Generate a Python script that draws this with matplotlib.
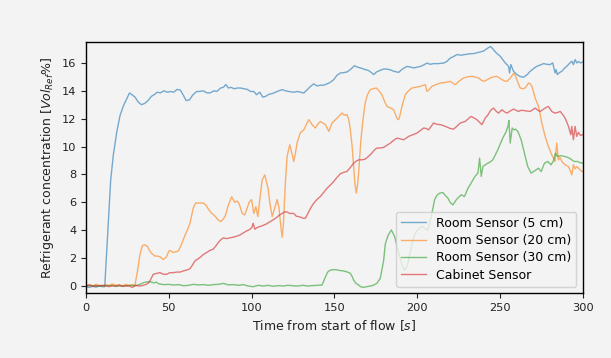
import matplotlib
matplotlib.use("Agg")
import matplotlib.pyplot as plt

# Room sensor at 5 cm height
t_room5 = [0, 2, 4, 6, 8, 10, 11.3, 13, 14.9, 16.5, 18.5, 20.5, 22.5, 24.5, 26.3, 28, 29.6, 31.5,
           33.5, 35.5, 37.5, 39.5, 41.5, 43, 45, 47, 49, 51, 53, 55, 57, 58.7, 60.5, 62.5, 64.5,
           66.8, 68.5, 70.8, 73, 75, 77.3, 79, 81.3, 83, 84.5, 86, 87.5, 89.5, 91.5, 93.3, 95.5,
           97.4, 99.5, 101.4, 103, 105, 106.8, 108.5, 110.5, 112.5, 114.5, 116.5, 118.5, 120.5,
           122.5, 125.5, 128, 131.6, 133.6, 135.5, 137.6, 139.5, 141.6, 143.5, 145.7, 147.5,
           149.7, 151.5, 153.7, 155.5, 157.7, 160, 162.2, 164, 165.8, 168, 170.8, 172.5, 173.8,
           175.5, 177.8, 180, 182, 184, 185.9, 188.9, 191, 193.9, 196, 197.9, 200, 202, 204, 206,
           208, 210, 213, 216.1, 218, 220.1, 222, 224.1, 226.5, 229.1, 231.5, 234.2, 237, 240.2,
           242.6, 244.5, 246.2, 248, 250.3, 252, 253.3, 255.3, 255.9, 256.7, 258.3, 260, 261.3,
           263, 264.3, 266.5, 268.4, 270.5, 272.4, 274.5, 276.4, 278.5, 280.4, 282, 283.4, 284,
           284.8, 286, 287.5, 289, 290.5, 292, 293.5, 294.5, 295.5, 296.5, 297.5, 298.8, 300]
v_room5 = [-0.05, -0.1, -0.02, -0.08, 0.0, -0.05, -0.05, 3.5, 7.6, 9.4, 11.0, 12.2, 12.9, 13.4,
           13.85, 13.7, 13.55, 13.2, 13.0, 13.1, 13.3, 13.6, 13.75, 13.9, 13.85, 14.0, 13.9,
           13.95, 13.9, 14.1, 14.05, 13.7, 13.3, 13.35, 13.7, 13.95, 13.95, 14.0, 13.85, 13.85,
           14.0, 13.95, 14.2, 14.25, 14.45, 14.2, 14.25, 14.15, 14.2, 14.2, 14.15, 14.1, 13.95,
           13.95, 13.72, 13.9, 13.55, 13.6, 13.75, 13.8, 13.9, 14.0, 14.08, 14.0, 13.95, 13.9,
           13.95, 13.84, 14.08, 14.3, 14.5, 14.35, 14.4, 14.4, 14.5, 14.6, 14.8, 15.1, 15.28,
           15.3, 15.35, 15.55, 15.8, 15.7, 15.64, 15.55, 15.45, 15.3, 15.16, 15.35, 15.47,
           15.57, 15.55, 15.5, 15.4, 15.32, 15.55, 15.75, 15.7, 15.64, 15.7, 15.75, 15.85,
           15.99, 15.9, 15.95, 15.95, 15.99, 16.1, 16.35, 16.45, 16.6, 16.55, 16.6, 16.65,
           16.67, 16.75, 16.85, 17.05, 17.18, 16.95, 16.7, 16.48, 16.2, 16.0, 15.76, 15.28,
           15.88, 15.4, 15.2, 15.09, 15.0, 14.97, 15.15, 15.4, 15.6, 15.76, 15.85, 15.95, 15.9,
           15.88, 16.0, 15.28, 15.52, 15.16, 15.3, 15.4, 15.6, 15.76, 15.95, 16.12, 15.88,
           16.24, 16.0, 16.1, 16.0, 16.05]

# Room sensor at 20 cm height
t_room20 = [0, 2, 4, 6, 8, 10, 12, 14, 16, 18, 20, 22, 24, 26, 28, 29.6, 31, 32.5, 34, 35.5, 37,
            38.6, 40, 41.6, 43, 44.7, 46.7, 48.7, 50, 50.7, 52.7, 54, 55.7, 57.7, 59.7, 61.5,
            62.8, 64.8, 66.2, 68.5, 70.8, 72.5, 74, 76, 77.3, 79.8, 81.3, 83, 84.3, 86, 88,
            89.9, 91.3, 92.5, 94.4, 95.9, 97.4, 98.5, 100, 101.4, 102.6, 103.8, 105, 106.4, 108,
            110, 111, 112.5, 114, 115.5, 116.6, 117.5, 118.5, 119.2, 120.5, 121.5, 123.1, 124.2,
            125.5, 126.5, 127.5, 129.5, 131.6, 133.2, 134.6, 136.6, 138.6, 140, 141.6, 143,
            144.7, 146.7, 148.7, 150, 151.7, 153, 154.7, 156, 157.7, 158.8, 159.7, 160.8, 161.7,
            162.5, 163.3, 164, 164.7, 165.4, 166.1, 167.4, 168.7, 170, 171.7, 173.5, 175.4, 177,
            178.8, 180.5, 181.9, 183.5, 185.9, 187.3, 188.3, 189.2, 190.9, 192.9, 194.9, 196.9,
            199, 202, 204, 205, 206, 207.5, 209, 211.5, 214.1, 217, 220.1, 221.5, 223.1, 225.5,
            228.1, 230.5, 233.2, 235.2, 237.2, 239, 240.2, 242.5, 244.2, 246.2, 248.2, 250,
            251.3, 253, 254.3, 256.3, 258.3, 259.3, 260.3, 261.3, 262.3, 264, 265.3, 267.4,
            268.4, 269.4, 270.4, 271.4, 273.4, 275.4, 277.4, 279.4, 281.4, 283.4, 284.4, 285.4,
            286.5, 287.5, 289.5, 291.5, 292.5, 293.5, 294.5, 295.5, 296.5, 298.5, 300]
v_room20 = [0.05, 0.1, 0.0, 0.12, 0.05, 0.0, 0.1, 0.05, 0.15, 0.05, 0.1, 0.0, 0.12, 0.05, 0.08,
            0.1, 1.0, 2.2, 2.9, 2.95, 2.85, 2.5, 2.3, 2.15, 2.15, 2.1, 1.9, 2.1, 2.5, 2.55, 2.4,
            2.45, 2.5, 3.0, 3.6, 4.1, 4.5, 5.6, 5.95, 5.95, 5.95, 5.8, 5.5, 5.2, 5.1, 4.75,
            4.62, 4.8, 5.1, 5.8, 6.4, 6.0, 6.1, 5.9, 5.2, 5.1, 5.6, 6.0, 6.2, 5.2, 5.7, 4.98,
            6.2, 7.6, 7.97, 7.0, 6.0, 4.98, 5.6, 6.2, 5.6, 4.5, 3.5, 4.3, 7.5, 9.3, 10.13, 9.6,
            8.93, 9.5, 10.25, 11.0, 11.2, 11.6, 11.93, 11.57, 11.33, 11.6, 11.8, 11.7, 11.57,
            11.09, 11.69, 11.85, 12.04, 12.2, 12.41, 12.25, 12.29, 11.9, 11.2, 10.0, 8.57, 7.3,
            6.66, 7.2, 8.1, 9.3, 10.49, 12.0, 13.13, 13.7, 14.08, 14.15, 14.2, 14.0, 13.72,
            13.2, 12.88, 12.8, 12.64, 12.2, 11.93, 12.0, 12.88, 13.72, 14.0, 14.2, 14.25,
            14.32, 14.4, 14.44, 13.96, 14.1, 14.32, 14.45, 14.56, 14.6, 14.68, 14.55, 14.44,
            14.7, 14.92, 15.0, 15.04, 14.98, 14.92, 14.75, 14.68, 14.8, 14.92, 15.0, 15.04,
            14.9, 14.8, 14.7, 14.68, 14.9, 15.25, 15.1, 14.8, 14.5, 14.2, 14.15, 14.2, 14.56,
            14.5, 14.32, 13.9, 13.48, 12.88, 11.69, 10.73, 10.0, 9.41, 8.93, 10.25, 9.05, 9.2,
            8.93, 8.69, 8.57, 8.3, 7.97, 8.69, 8.4, 8.57, 8.33, 8.21]

# Room sensor at 30 cm height
t_room30 = [0, 3, 6, 9, 12, 15, 18, 21, 24, 27, 30, 33, 35, 37, 39, 41, 42.5, 44, 47, 50, 53,
            56, 59, 62, 65, 68, 71, 74, 77, 80, 83, 86, 89, 92, 95, 98, 101, 104, 107, 110, 113,
            116, 119, 122, 125, 128, 131, 134, 137, 140, 142.6, 144.7, 146, 147.7, 150, 151.7,
            154, 155.7, 158, 159.7, 160.7, 161.7, 163, 164.7, 166, 167.7, 169.5, 171.7, 173.5,
            175.7, 177.8, 179.8, 180.8, 182.4, 184.5, 186.5, 188, 189.5, 191, 192.5, 193.5,
            194.5, 196, 197.5, 199, 200.5, 202, 203.6, 205, 206.6, 207.6, 208.6, 210.6, 212,
            213.7, 215.7, 217, 218.7, 220, 221.7, 223.7, 225, 226.7, 228.7, 230.8, 232.3, 233.8,
            235.3, 236.8, 237.8, 238.8, 239.8, 241.3, 242.8, 244.3, 245.8, 247.3, 248.8, 250.3,
            251.8, 253.9, 255, 255.5, 256.3, 257.5, 258.5, 259.5, 260.9, 262.9, 264.9, 266.9,
            268.9, 270.4, 271.9, 273.4, 275, 277, 279, 281, 282.5, 283.6, 285, 287, 289, 290.5,
            292, 293.5, 295, 297, 298.5, 300]
v_room30 = [0.0, 0.05, -0.02, 0.03, 0.0, 0.04, -0.03, 0.02, 0.0, 0.05, 0.02, 0.14, 0.25, 0.3,
            0.3, 0.22, 0.28, 0.15, 0.1, 0.12, 0.07, 0.1, 0.02, 0.05, 0.12, 0.08, 0.1, 0.05, 0.1,
            0.12, 0.19, 0.08, 0.1, 0.05, 0.1, 0.0, -0.05, 0.05, 0.0, 0.05, -0.02, 0.03, 0.0,
            0.05, 0.02, 0.0, 0.05, 0.0, 0.03, 0.05, 0.07, 0.67, 1.0, 1.15, 1.18, 1.15, 1.1,
            1.08, 1.0, 0.91, 0.7, 0.43, 0.2, 0.07, -0.05, -0.1, -0.05, 0.0, 0.05, 0.19, 0.55,
            1.8, 3.0, 3.6, 4.02, 3.54, 2.8, 2.11, 1.5, 1.15, 1.3, 1.63, 2.5, 3.3, 3.8, 4.02,
            4.2, 4.26, 4.1, 4.02, 4.5, 4.98, 6.18, 6.5, 6.66, 6.7, 6.5, 6.3, 6.0, 5.82, 6.18,
            6.35, 6.54, 6.42, 7.02, 7.3, 7.62, 7.9, 8.1, 9.17, 7.86, 8.57, 8.7, 8.81, 8.9, 9.05,
            9.4, 9.77, 10.2, 10.61, 11.09, 11.5, 11.88, 10.25, 11.33, 11.2, 11.25, 11.09, 10.49,
            9.53, 8.57, 8.1, 8.2, 8.33, 8.45, 8.21, 8.81, 8.93, 8.69, 9.0, 9.53, 9.29, 9.35,
            9.29, 9.25, 9.17, 9.05, 8.93, 8.93, 8.85, 8.81]

# Sensor inside the cabinet
t_cabinet = [0, 2, 4, 6, 8, 10, 12, 14, 16, 18, 20, 22, 24, 26, 28, 30, 32, 34, 36, 37.5, 38.6,
             40, 40.6, 42.5, 44.7, 46.5, 48.7, 50.5, 52.7, 55, 57, 58.7, 61, 62.8, 64.3, 65.8,
             68.8, 70.8, 72.8, 74.8, 76.8, 78.3, 79.8, 81.3, 82.9, 84.9, 86.9, 88.9, 90.9, 92.9,
             94.9, 97, 99, 100.2, 101, 102, 103.5, 105, 107, 109, 111, 113, 115, 117, 118.5,
             120.1, 121.5, 123.1, 125.5, 127.1, 128.6, 131.2, 132.6, 134.6, 136, 137.6, 139.5,
             141.6, 143.5, 145.7, 147.7, 149.7, 151.7, 153.7, 155.7, 157.7, 159.7, 161.7, 163.2,
             164.7, 166.7, 168.7, 170.7, 172.7, 174.2, 175.7, 177.8, 179.8, 181.9, 183.9, 185.9,
             187.9, 189.9, 191.9, 193.4, 194.9, 197.5, 200, 202, 204, 205.5, 207, 208.5, 210,
             212, 214.1, 216, 218.1, 220, 222.1, 224, 226.1, 229.1, 231, 232.6, 234.5, 236.2,
             237.7, 239.2, 241.2, 243, 244.5, 246.2, 247.7, 249.2, 251.3, 252.8, 254.3, 256.3,
             258.3, 259.8, 261.3, 262.8, 264.3, 266.4, 268.4, 270, 271.4, 273, 274.4, 276, 277.4,
             279.4, 281.4, 283.4, 285, 286.5, 288, 289.5, 290.5, 291.5, 292.9, 293.5, 294.5,
             295.5, 296.5, 297.5, 298.8, 300]
v_cabinet = [0.0, 0.05, -0.02, 0.03, 0.0, 0.05, 0.02, -0.05, 0.03, 0.0, 0.05, -0.03, 0.02, 0.0,
             -0.1, 0.05, 0.0, 0.03, 0.1, 0.2, 0.36, 0.7, 0.84, 0.9, 0.96, 0.85, 0.84, 0.95, 0.96,
             1.0, 1.0, 1.08, 1.15, 1.24, 1.5, 1.8, 2.04, 2.25, 2.4, 2.55, 2.64, 2.85, 3.1, 3.3,
             3.45, 3.4, 3.45, 3.5, 3.57, 3.65, 3.8, 3.95, 4.06, 4.2, 4.5, 4.07, 4.2, 4.26, 4.35,
             4.45, 4.6, 4.74, 4.9, 5.1, 5.2, 5.33, 5.3, 5.2, 5.21, 5.0, 4.98, 4.86, 4.86, 5.34,
             5.65, 5.94, 6.2, 6.42, 6.7, 7.02, 7.25, 7.5, 7.8, 8.05, 8.15, 8.22, 8.5, 8.81,
             8.95, 9.05, 9.05, 9.1, 9.3, 9.53, 9.75, 9.89, 9.9, 9.94, 10.1, 10.25, 10.45, 10.61,
             10.55, 10.49, 10.6, 10.73, 10.85, 10.97, 11.15, 11.33, 11.3, 11.2, 11.45, 11.69,
             11.6, 11.57, 11.5, 11.4, 11.3, 11.25, 11.45, 11.69, 11.8, 12.0, 12.16, 12.05,
             11.93, 11.75, 11.57, 12.04, 12.3, 12.6, 12.76, 12.55, 12.4, 12.64, 12.5, 12.4,
             12.55, 12.69, 12.6, 12.52, 12.6, 12.59, 12.55, 12.52, 12.65, 12.76, 12.6, 12.52,
             12.65, 12.76, 12.88, 12.52, 12.4, 12.45, 12.52, 12.3, 12.04, 11.75, 11.45, 10.85,
             11.45, 10.49, 11.45, 10.73, 11.02, 10.8, 10.85]

labels = ["Room Sensor (5 cm)", "Room Sensor (20 cm)", "Room Sensor (30 cm)", "Cabinet Sensor"]
colors = ["#1f77b4", "#ff7f0e", "#2ca02c", "#d62728"]
series = [(t_room5, v_room5), (t_room20, v_room20), (t_room30, v_room30), (t_cabinet, v_cabinet)]

bg = "#f3f3f3"
tick_fs = 8.2
label_fs = 9.0

fig = plt.figure(figsize=(6.11, 3.58), dpi=100, facecolor=bg)
ax = fig.add_axes([0.1408, 0.1816, 0.8126, 0.7011], facecolor=bg)

for (t, v), lab, c in zip(series, labels, colors):
    ax.plot(t, v, color=c, lw=1.0, alpha=0.6, label=lab)

ax.set_xlim(0, 300)
ax.set_ylim(-0.5, 17.5)
ax.set_xticks([0, 50, 100, 150, 200, 250, 300])
ax.set_yticks([0, 2, 4, 6, 8, 10, 12, 14, 16])
ax.tick_params(labelsize=tick_fs, colors="#222222")
ax.set_xlabel("Time from start of flow [$s$]", fontsize=label_fs, color="#222222")
ax.set_ylabel("Refrigerant concentration [$Vol_{Ref}\\%$]", fontsize=label_fs,
              color="#222222")
for s in ax.spines.values():
    s.set_linewidth(1.0)

leg = ax.legend(loc="lower right", fontsize=label_fs, facecolor=bg, labelspacing=0.35)

fig.savefig("out.png", dpi=100, facecolor=bg)
